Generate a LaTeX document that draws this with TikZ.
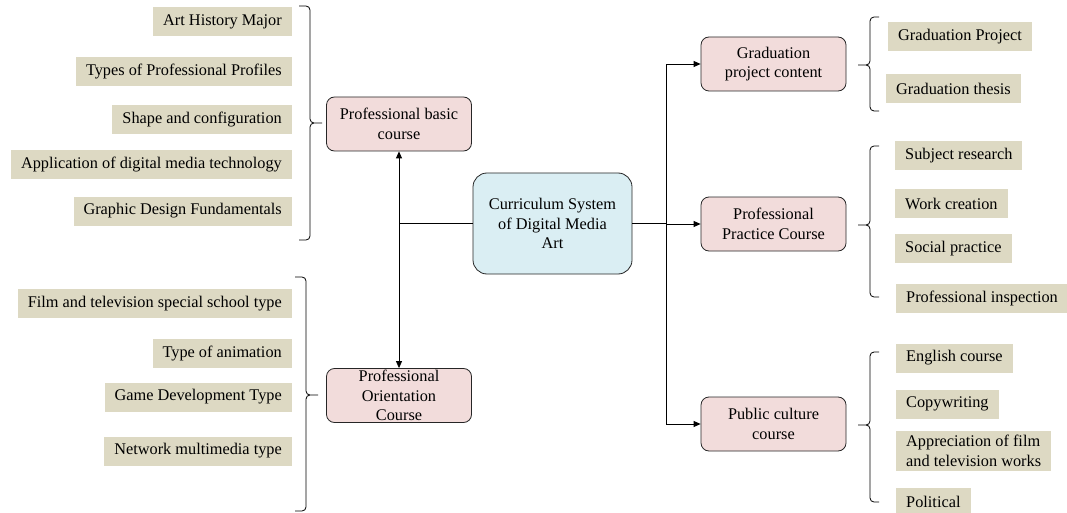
\documentclass[tikz,border=0pt]{standalone}
\usepackage{fontspec}
\setmainfont{Liberation Serif}
\usetikzlibrary{arrows.meta,positioning}
\definecolor{itemtan}{HTML}{DDD9C3}
\definecolor{coursepink}{HTML}{F2DCDB}
\definecolor{coreblue}{HTML}{DAEEF3}

\begin{document}
\begin{tikzpicture}[
    x=1pt, y=-1pt,
    font=\fontsize{16.3}{19.5}\selectfont,
    item/.style={rectangle, fill=itemtan, align=left, inner xsep=10pt, inner ysep=4pt,
                 minimum height=29pt},
    course/.style={rectangle, rounded corners=8pt, draw=black!85, fill=coursepink,
                   align=center, line width=0.8pt, inner sep=1pt,
                   minimum width=145pt, minimum height=54pt},
    core/.style={rectangle, rounded corners=14pt, draw=black!85, fill=coreblue,
                 align=center, line width=0.8pt, minimum width=159pt, minimum height=101pt},
    arr/.style={-{Triangle[length=7pt,width=6pt]}, line width=0.8pt},
    link/.style={line width=0.8pt},
    bracket/.style={rounded corners=4pt, line width=0.8pt},
]
\useasboundingbox (0,0) rectangle (1067,513);

% centre and course boxes
\node[core] (core) at (552.5,223.5) {Curriculum System\\of Digital Media\\Art};
\node[course] (basic) at (399,124) {Professional basic\\course};
\node[course] (orient) at (399,395.5) {Professional\\Orientation\\Course};
\node[course] (grad) at (773.5,64) {Graduation\\project content};
\node[course] (practice) at (773.5,224) {Professional\\Practice Course};
\node[course] (public) at (773.5,424) {Public culture\\course};

% left items
\node[item, anchor=east] (arthist) at (292,22) {Art History Major};
\node[item, anchor=east] (profiles) at (292,71.5) {Types of Professional Profiles};
\node[item, anchor=east] (shape) at (292,120) {Shape and configuration};
\node[item, anchor=east] (digital) at (292,165) {Application of digital media technology};
\node[item, anchor=east] (graphic) at (292,211) {Graphic Design Fundamentals};

\node[item, anchor=east] (filmtv) at (292,303.5) {Film and television special school type};
\node[item, anchor=east] (anim) at (292,353.5) {Type of animation};
\node[item, anchor=east] (game) at (292,397) {Game Development Type};
\node[item, anchor=east] (network) at (292,451) {Network multimedia type};

% right items
\node[item, anchor=west] (gproject) at (888,37) {Graduation Project};
\node[item, anchor=west] (gthesis) at (886,89) {Graduation thesis};
\node[item, anchor=west] (subject) at (895,155.5) {Subject research};
\node[item, anchor=west] (work) at (895,203.5) {Work creation};
\node[item, anchor=west] (social) at (895,248.5) {Social practice};
\node[item, anchor=west] (inspect) at (896,298) {Professional inspection};
\node[item, anchor=west] (english) at (896,358) {English course};
\node[item, anchor=west] (copy) at (896,404) {Copywriting};
\node[item, anchor=west] (apprec) at (896,451) {Appreciation of film\\and television works};
\node[item, anchor=west] (political) at (896,502) {Political};

% connectors
\coordinate (lj) at (core.west -| basic.south);
\coordinate[right=34pt of core.east] (rj);
\draw[link] (core.west) -- (lj);
\draw[arr] (lj) -- (basic.south);
\draw[arr] (lj) -- (orient.north);
\draw[link] (core.east) -- (rj);
\draw[arr] (rj) |- (grad.west);
\draw[arr] (rj) |- (practice.west);
\draw[arr] (rj) |- (public.west);

% braces: end x / spine x / tip x / top / middle / bottom
\foreach \xe/\xv/\xt/\ya/\ym/\yb in {299/310/322/6/123/240, 295/306/318/277/395/511,
                                     879/870/858/17/65/111, 879/870/858/146/225/297,
                                     879/870/858/352/425/502}
  \draw[bracket] (\xe,\ya) -| (\xv,\ym) -- (\xt,\ym)
                 (\xe,\yb) -| (\xv,\ym) -- (\xt,\ym);
\end{tikzpicture}
\end{document}
